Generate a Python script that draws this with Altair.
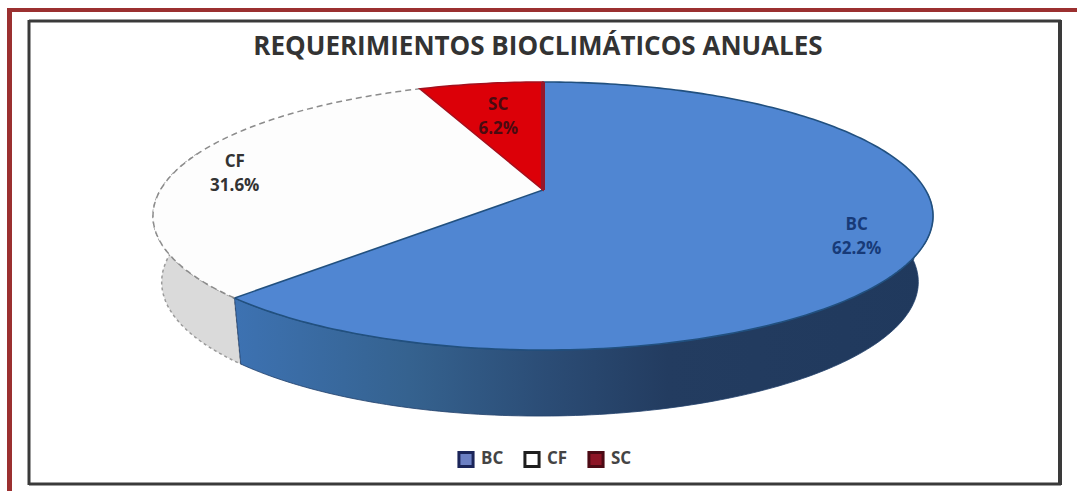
import math
import altair as alt

# Shares of annual bioclimatic requirements, clockwise from twelve o'clock
categories = ["BC", "CF", "SC"]
shares = [62.2, 31.6, 6.2]
face_colors = ["#5086d2", "#fdfdfd", "#dc0008"]
label_colors = ["#173a78", "#333333", "#4a0a10"]
legend_fill = ["#6c80c4", "#ffffff", "#8e1526"]
legend_stroke = ["#1b2559", "#1e1e1e", "#4c0a14"]
label_reach = [0.82, 0.85, 0.72]
chart_title = "REQUERIMIENTOS BIOCLIMÁTICOS ANUALES"

# Tilted-disc projection, in units of the disc radius
PERSPECTIVE = 0.194
FLATTEN = 129 / 382.6
RADIUS_PX = 382.6
BASE_SHRINK = 0.97
BASE_DX = -3 / RADIUS_PX
BASE_DY = -66 / RADIUS_PX


def top_point(theta_deg, reach=1.0):
    t = math.radians(theta_deg)
    d = 1 + PERSPECTIVE * math.sin(t)
    return [reach * math.cos(t) / d, reach * FLATTEN * math.sin(t) / d]


def base_point(theta_deg):
    x, y = top_point(theta_deg)
    return [BASE_DX + BASE_SHRINK * x, BASE_DY + y]


def sweep(a, b, step=1.0):
    n = max(2, int(abs(b - a) / step))
    return [a + (b - a) * i / n for i in range(n + 1)]


def feature(name, kind, coords):
    return {
        "type": "Feature",
        "properties": {"name": name},
        "geometry": {"type": kind, "coordinates": coords},
    }


# Slice angles, running clockwise from the top
bounds = {}
angle = 90.0
for name, share in zip(categories, shares):
    bounds[name] = (angle, angle - share * 3.6)
    angle -= share * 3.6

faces = []
for name in categories:
    a, b = bounds[name]
    ring = [[0.0, 0.0]] + [top_point(t) for t in sweep(a, b)] + [[0.0, 0.0]]
    faces.append(feature(name, "Polygon", [ring]))


def wall(name, a, b):
    top = [top_point(t) for t in sweep(a, b)]
    low = [base_point(t) for t in sweep(b, a)]
    return feature(name, "Polygon", [top + low + [top[0]]])


bc_end = bounds["BC"][1]
wall_bc = wall("BC", bc_end, -2)
wall_cf = wall("CF", -197, bc_end)
cf_start, cf_stop = bounds["CF"]
cf_rim = feature("CF", "LineString", [top_point(t) for t in sweep(cf_start, cf_stop)])
sc_edge = feature("SC", "LineString", [[0.0, 0.0], top_point(90)])

projection = dict(type="identity", scale=RADIUS_PX, translate=[543, 190], reflectY=True)


def shape(features, **mark):
    return alt.Chart(alt.Data(values=features)).mark_geoshape(**mark).project(**projection)


wall_gradient = alt.Gradient(
    gradient="linear",
    x1=0, x2=1, y1=0, y2=0,
    stops=[
        alt.GradientStop(offset=0.0, color="#3d72b2"),
        alt.GradientStop(offset=0.25, color="#35628f"),
        alt.GradientStop(offset=0.45, color="#2b4c75"),
        alt.GradientStop(offset=0.62, color="#233c60"),
        alt.GradientStop(offset=1.0, color="#20395d"),
    ],
)

side_bc = shape([wall_bc], fill=wall_gradient, stroke="#22406b", strokeWidth=0.8)
side_cf = shape(
    [wall_cf], fill="#dadada", stroke="#9a9a9a", strokeWidth=1.5, strokeDash=[3, 3]
)

top_faces = shape(faces, strokeWidth=0).encode(
    fill=alt.Fill(
        "properties.name:N",
        scale=alt.Scale(domain=categories, range=face_colors),
        legend=None,
    )
)
bc_outline = shape([faces[0]], filled=False, stroke="#21507f", strokeWidth=1.6)
cf_outline = shape(
    [cf_rim], filled=False, stroke="#8c8c8c", strokeWidth=1.5, strokeDash=[6, 4]
)
sc_outline = shape([faces[2]], filled=False, stroke="#a3101e", strokeWidth=1.5)
sc_divider = shape([sc_edge], filled=False, stroke="#96182c", strokeWidth=4)

# Value labels sit along each slice's mid-angle
label_rows = []
for name, share, reach, color in zip(categories, shares, label_reach, label_colors):
    a, b = bounds[name]
    lon, lat = top_point((a + b) / 2, reach)
    label_rows.append({"text": f"{name}\n{share}%", "lon": lon, "lat": lat, "color": color})

labels = (
    alt.Chart(alt.Data(values=label_rows))
    .mark_text(
        font="Open Sans", fontSize=17, fontWeight="bold", lineBreak="\n", lineHeight=24,
        align="center", baseline="middle", dy=-8,
    )
    .encode(
        longitude="lon:Q",
        latitude="lat:Q",
        text="text:N",
        color=alt.Color("color:N", scale=None, legend=None),
    )
    .project(**projection)
)

# Legend carried by a zero-size point layer
legend_rows = [{"key": c} for c in categories]
legend_spec = alt.Legend(
    title=None, orient="none", legendX=457, legendY=450, direction="horizontal",
    symbolType="square", symbolSize=200, symbolStrokeWidth=3, symbolOpacity=1,
    labelFont="Open Sans", labelFontSize=17, labelFontWeight="bold", labelColor="#444444",
    columns=3, columnPadding=14, labelOffset=6,
)
legend_layer = (
    alt.Chart(alt.Data(values=legend_rows))
    .mark_square(size=0)
    .encode(
        x=alt.value(-50),
        y=alt.value(-50),
        color=alt.Color(
            "key:N", scale=alt.Scale(domain=categories, range=legend_fill), legend=legend_spec
        ),
        stroke=alt.Stroke(
            "key:N", scale=alt.Scale(domain=categories, range=legend_stroke), legend=legend_spec
        ),
    )
)

title_layer = (
    alt.Chart(alt.Data(values=[{"text": chart_title}]))
    .mark_text(
        font="Open Sans", fontSize=26, fontWeight="bold", color="#333333",
        align="center", baseline="middle",
    )
    .encode(x=alt.value(538), y=alt.value(47), text="text:N")
)


def rule(color, width, **pos):
    enc = {k: alt.value(v) for k, v in pos.items()}
    return (
        alt.Chart(alt.Data(values=[{}]))
        .mark_rule(color=color, strokeWidth=width)
        .encode(**enc)
    )


frame = [
    rule("#9b3030", 4, x=7, x2=1077, y=10),
    rule("#9b3030", 5, x=9.5, y=8, y2=491),
    rule("#3a3a3a", 3, x=29, x2=1061, y=21),
    rule("#3a3a3a", 3, x=29, x2=1061, y=484),
    rule("#3a3a3a", 3, x=29, y=20, y2=485),
    rule("#3a3a3a", 4, x=1060, y=20, y2=485),
]

chart = (
    alt.layer(
        *frame,
        title_layer,
        side_cf,
        side_bc,
        top_faces,
        bc_outline,
        cf_outline,
        sc_outline,
        sc_divider,
        labels,
        legend_layer,
    )
    .resolve_scale(color="independent", fill="independent", stroke="independent")
    .properties(
        width=1077,
        height=491,
        padding=0,
        autosize=alt.AutoSizeParams(type="none"),
        background="white",
    )
    .configure_view(stroke=None)
)

chart.save("out.html", embed_options={"renderer": "svg", "actions": False})
